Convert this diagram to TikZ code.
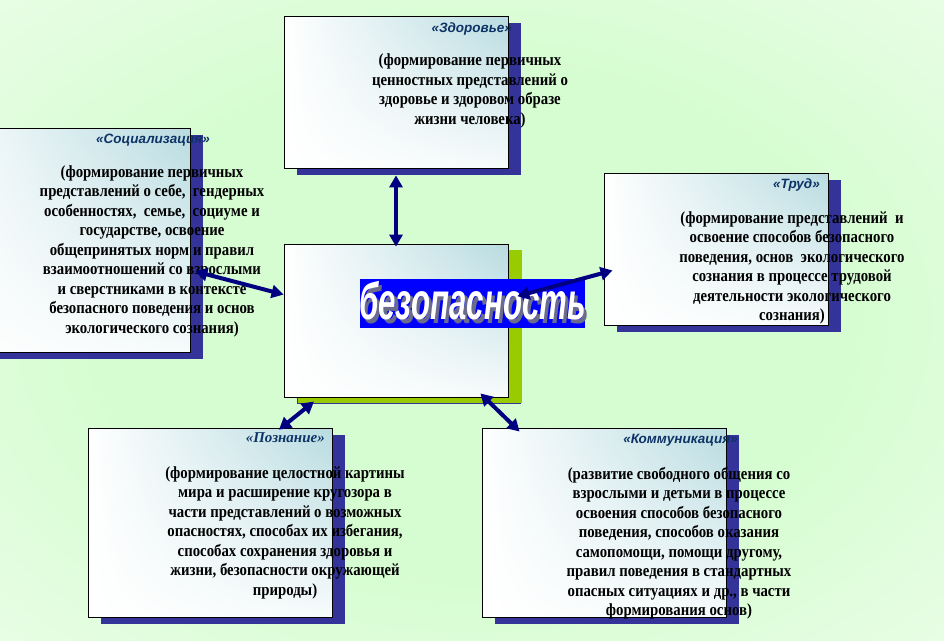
\documentclass[tikz,border=0pt]{standalone}
\usepackage{fontspec}
\setmainfont{Liberation Serif}
\newfontfamily\bodyfont{Liberation Serif}[FakeStretch=0.87]
\newfontfamily\headfont{Liberation Sans}
\newfontfamily\bannerfont{Liberation Sans}[FakeStretch=0.6]
\usepackage{xcolor}
\definecolor{paleleaf}{rgb}{0.84, 0.99, 0.82}
\definecolor{shadownavy}{rgb}{0.2, 0.2, 0.6}
\definecolor{limeshadow}{rgb}{0.6, 0.8, 0.0}
\definecolor{arrownavy}{rgb}{0.0, 0.0, 0.5}
\definecolor{titlenavy}{rgb}{0.05, 0.2, 0.4}
\definecolor{paleteal}{rgb}{0.72, 0.86, 0.88}
\definecolor{bannerblue}{rgb}{0.0, 0.0, 1.0}
\definecolor{letterside}{rgb}{0.42, 0.42, 0.55}
\usepackage{tikz}
\usetikzlibrary{arrows.meta,shadows,shadings}
\pgfdeclareradialshading{leafglow}{\pgfpoint{0bp}{0bp}}{color(0bp)=(paleleaf); color(20bp)=(paleleaf); color(40bp)=(paleleaf!45!white); color(56bp)=(white); color(71bp)=(white)}
\tikzset{
  >={Triangle[length=12pt,width=13pt]},
  topic/.style={rectangle,draw,line width=0.8pt,minimum width=224pt,minimum height=152pt,
    upper left=white,upper right=paleteal,lower left=white,lower right=paleteal!12!white,
    drop shadow={fill=shadownavy,opacity=1,shadow xshift=13pt,shadow yshift=-7pt}},
  hub/.style={topic,minimum height=153pt,
    drop shadow={fill=limeshadow,opacity=1,shadow xshift=14pt,shadow yshift=-6pt}},
  widetopic/.style={topic,minimum width=244pt,minimum height=189pt},
  banner/.style={rectangle,fill=bannerblue,minimum width=225pt,minimum height=49pt,inner sep=0pt},
  bannerword/.style={inner sep=0pt,font=\bannerfont\fontsize{52}{52}\selectfont\bfseries\itshape},
  heading/.style={anchor=east,inner sep=0pt,text=titlenavy,font=\headfont\fontsize{13.5}{16}\selectfont\bfseries\itshape},
  blurb/.style={anchor=north,align=center,inner sep=0pt,font=\bodyfont\fontsize{17}{19.5}\selectfont\bfseries},
  link/.style={<->,line width=4pt,draw=arrownavy}
}

\begin{document}
\begin{tikzpicture}[x=1pt,y=-1pt]
  \useasboundingbox (0,0) rectangle (944,640);
  \shade[shading=leafglow] (0,0) rectangle (944,640);

  \node[topic] (zdorovye) at (396,92) {};
  \node[topic,minimum width=260pt,minimum height=224pt] (social) at (60,240) {};
  \node[topic] (trud) at (716,249) {};
  \node[hub] (hub) at (396,320.5) {};
  \node[widetopic] (poznanie) at (210,522.5) {};
  \node[widetopic] (kommun) at (604,522.5) {};

  \node[banner] (banner) at (472.5,303.5) {};
  \node[bannerword,text=letterside] (bannershade) at (476,305) {безопасность};
  \node[bannerword,text=white] (bannerword) at (472.5,301) {безопасность};

  \node[heading] (zdorovyehead) at (512,29) {«Здоровье»};
  \node[heading] (socialhead) at (210,140) {«Социализация»};
  \node[heading] (trudhead) at (820,185) {«Труд»};
  \node[heading,font=\fontsize{15}{16}\selectfont\bfseries\itshape] (poznaniehead) at (325,438) {«Познание»};
  \node[heading] (kommunhead) at (738,440) {«Коммуникация»};

  \node[blurb] (zdorovyetext) at (470,54) {(формирование первичных\\ценностных представлений о\\здоровье и здоровом образе\\жизни человека)};
  \node[blurb] (socialtext) at (152,165) {(формирование первичных\\представлений о себе,~ гендерных\\особенностях,~ семье,~ социуме и\\государстве, освоение\\общепринятых норм и правил\\взаимоотношений со взрослыми\\и сверстниками в контексте\\безопасного поведения и основ\\экологического сознания)};
  \node[blurb] (trudtext) at (792,211) {(формирование представлений~ и\\освоение способов безопасного\\поведения, основ~ экологического\\сознания в процессе трудовой\\деятельности экологического\\сознания)};
  \node[blurb] (poznanietext) at (285,466) {(формирование целостной картины\\мира и расширение кругозора в\\части представлений о возможных\\опасностях, способах их избегания,\\способах сохранения здоровья и\\жизни, безопасности окружающей\\природы)};
  \node[blurb] (kommuntext) at (679,467) {(развитие свободного общения со\\взрослыми и детьми в процессе\\освоения способов безопасного\\поведения, способов оказания\\самопомощи, помощи другому,\\правил поведения в стандартных\\опасных ситуациях и др., в части\\формирования основ)};

  \draw[link,shorten <=7pt,shorten >=-3pt] (zdorovye.south) -- (hub.north);
  \draw[link,shorten <=5pt] (social.-13.8) -- (hub.167);
  \draw[link,shorten <=9.3pt,shorten >=-9.3pt] (hub.11.75) -- (trud.192.7);
  \draw[link,shorten <=6.6pt,shorten >=-3.3pt] (hub.225.3) -- (poznanie.53.6);
  \draw[link,shorten <=-5.7pt,shorten >=-5.7pt] (hub.-41.7) -- (kommun.133.9);
\end{tikzpicture}
\end{document}
